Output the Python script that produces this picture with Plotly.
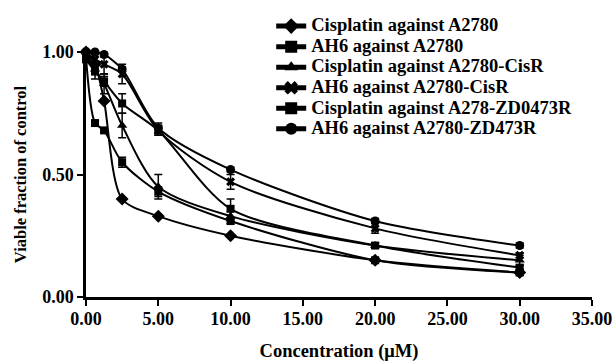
import plotly.graph_objects as go

conc = [0, 0.625, 1.25, 2.5, 5, 10, 20, 30]

names = [
    "Cisplatin against A2780",
    "AH6 against A2780",
    "Cisplatin against A2780-CisR",
    "AH6 against A2780-CisR",
    "Cisplatin against A278-ZD0473R",
    "AH6 against A2780-ZD473R",
]

cis_a2780 = [1.00, 0.95, 0.80, 0.40, 0.33, 0.25, 0.15, 0.10]
ah6_a2780 = [0.98, 0.71, 0.68, 0.55, 0.43, 0.31, 0.15, 0.10]
cis_cisr = [1.00, 0.93, 0.87, 0.70, 0.45, 0.33, 0.21, 0.15]
ah6_cisr = [1.00, 0.97, 0.95, 0.91, 0.68, 0.47, 0.28, 0.17]
cis_zd = [0.97, 0.92, 0.88, 0.79, 0.68, 0.36, 0.21, 0.12]
ah6_zd = [1.00, 1.00, 0.99, 0.93, 0.69, 0.52, 0.31, 0.21]

err_cis_a2780 = [0, 0, 0, 0, 0, 0, 0, 0]
err_ah6_a2780 = [0.01, 0.01, 0.01, 0.02, 0.02, 0.01, 0.01, 0.01]
err_cis_cisr = [0.01, 0.02, 0.04, 0.05, 0.05, 0.02, 0.01, 0.02]
err_ah6_cisr = [0.01, 0.03, 0.04, 0.04, 0.02, 0.03, 0.02, 0.01]
err_cis_zd = [0.01, 0.03, 0.02, 0.04, 0.02, 0.04, 0.01, 0.01]
err_ah6_zd = [0.01, 0.01, 0.01, 0.01, 0.02, 0.01, 0.01, 0.01]

x_ticks = [0, 5, 10, 15, 20, 25, 30, 35]
x_tick_labels = ["0.00", "5.00", "10.00", "15.00", "20.00", "25.00", "30.00", "35.00"]
y_ticks = [0, 0.5, 1.0]
y_tick_labels = ["0.00", "0.50", "1.00"]

series = [cis_a2780, ah6_a2780, cis_cisr, ah6_cisr, cis_zd, ah6_zd]
errors = [err_cis_a2780, err_ah6_a2780, err_cis_cisr, err_ah6_cisr, err_cis_zd, err_ah6_zd]
symbols = ["diamond", "square", "triangle-up", "x", "square", "circle"]
sizes = [10, 8, 9, 8, 8, 9]

fig = go.Figure()
for name, ys, er, sym, sz in zip(names, series, errors, symbols, sizes):
    fig.add_trace(go.Scatter(
        x=conc, y=ys, name='<span style="font-size:18.5px">' + name + '</span>',
        mode="lines+markers",
        line=dict(color="black", width=2, shape="spline", smoothing=0.8),
        marker=dict(symbol=sym, size=sz, color="black"),
        error_y=dict(type="data", array=er, visible=True, color="black", thickness=1.5, width=4),
        cliponaxis=False,
    ))

font_family = "Liberation Serif"
fig.update_layout(
    width=615, height=363,
    margin=dict(l=86, r=23, t=52, b=66, autoexpand=False),
    paper_bgcolor="white", plot_bgcolor="white",
    font=dict(family=font_family, size=16, color="black", weight="bold"),
    showlegend=True,
    legend=dict(x=0.366, y=1.168, xanchor="left", yanchor="top",
                bgcolor="rgba(0,0,0,0)", font=dict(size=13.5, family=font_family, weight="bold"),
                tracegroupgap=0, itemsizing="constant"),
    xaxis=dict(range=[0, 35], tickvals=x_ticks, ticktext=x_tick_labels,
               tickfont=dict(size=18), automargin=False, ticklabelstandoff=-2,
               showline=True, linecolor="black", linewidth=2.5, ticks="outside",
               ticklen=6, tickwidth=2, tickcolor="black", showgrid=False, zeroline=False,
               title=dict(text="Concentration (μM)", standoff=16, font=dict(size=18.5))),
    yaxis=dict(range=[0, 1.0], tickvals=y_ticks, ticktext=y_tick_labels,
               tickfont=dict(size=18), automargin=False,
               showline=True, linecolor="black", linewidth=2.5, ticks="outside",
               ticklen=6, tickwidth=2, tickcolor="black", showgrid=False, zeroline=False,
               title=dict(text="Viable fraction of control", standoff=12, font=dict(size=16.5))),
)

fig.write_html("out.html", config={"displayModeBar": False},
               post_script="document.body.style.margin='0';")
